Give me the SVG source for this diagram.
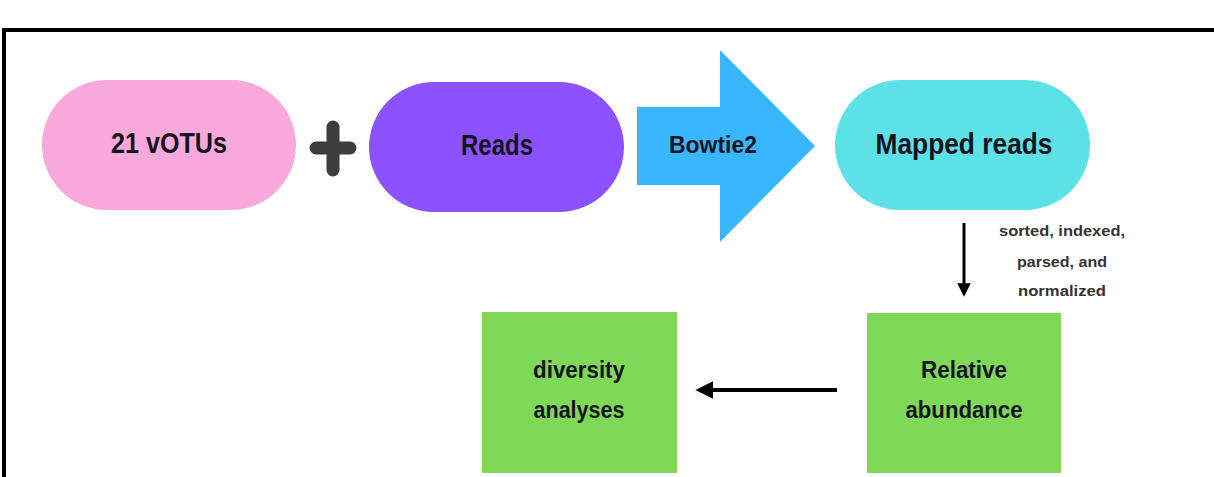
<svg xmlns="http://www.w3.org/2000/svg" width="1214" height="477" viewBox="0 0 1214 477">
<defs>
<style>
.t{font-family:"Liberation Sans",Arial,sans-serif;font-weight:bold;fill:#141420;text-anchor:middle}
.big{font-size:29px}
.mid{font-size:24px}
.sm{font-size:15px;fill:#333}
.ln{stroke:#000;fill:none}
</style>
<marker id="ah" viewBox="0 0 10 10" refX="8" refY="5" markerWidth="4.5" markerHeight="4.5" orient="auto" markerUnits="strokeWidth">
<path d="M0,0 L10,5 L0,10 Z" fill="#000"/>
</marker>
</defs>
<rect width="1214" height="477" fill="#fff"/>
<g id="frame">
<path d="M4,477 V30 H1214" stroke="#000" stroke-width="4" fill="none"/>
</g>
<g id="votus">
<rect x="42" y="80" width="254" height="130" rx="65" fill="#f9a8db"/>
<text class="t big" x="169" y="153" textLength="116" lengthAdjust="spacingAndGlyphs">21 vOTUs</text>
</g>
<g id="plus">
<path d="M316,148 H350 M333,127 V170" stroke="#3c3c3c" stroke-width="13" stroke-linecap="round"/>
</g>
<g id="reads">
<rect x="369" y="82" width="255" height="130" rx="65" fill="#8c52ff"/>
<text class="t big" x="497" y="155" textLength="72" lengthAdjust="spacingAndGlyphs">Reads</text>
</g>
<g id="bowtie2">
<polygon points="637,107 720,107 720,50 815,146 720,242 720,185 637,185" fill="#38b6ff"/>
<text class="t mid" x="713" y="153" textLength="88" lengthAdjust="spacingAndGlyphs">Bowtie2</text>
</g>
<g id="mapped">
<rect x="835" y="80" width="255" height="130" rx="65" fill="#5ce1e6"/>
<text class="t big" x="964" y="154" textLength="177" lengthAdjust="spacingAndGlyphs">Mapped reads</text>
</g>
<g id="relative">
<rect x="867" y="313" width="194" height="160" fill="#7ed957"/>
<text class="t mid" x="964" y="378" textLength="86" lengthAdjust="spacingAndGlyphs">Relative</text>
<text class="t mid" x="964" y="418" textLength="117" lengthAdjust="spacingAndGlyphs">abundance</text>
</g>
<g id="diversity">
<rect x="482" y="312" width="195" height="161" fill="#7ed957"/>
<text class="t mid" x="579" y="378" textLength="92" lengthAdjust="spacingAndGlyphs">diversity</text>
<text class="t mid" x="579" y="418" textLength="91" lengthAdjust="spacingAndGlyphs">analyses</text>
</g>
<g id="connectors">
<line class="ln" x1="964" y1="223" x2="964" y2="294" stroke-width="3" marker-end="url(#ah)"/>
<line class="ln" x1="837" y1="390" x2="699" y2="390" stroke-width="4" marker-end="url(#ah)"/>
<text class="t sm" x="1062" y="236" textLength="126" lengthAdjust="spacingAndGlyphs">sorted, indexed,</text>
<text class="t sm" x="1062" y="267" textLength="90" lengthAdjust="spacingAndGlyphs">parsed, and</text>
<text class="t sm" x="1062" y="296" textLength="88" lengthAdjust="spacingAndGlyphs">normalized</text>
</g>
</svg>
